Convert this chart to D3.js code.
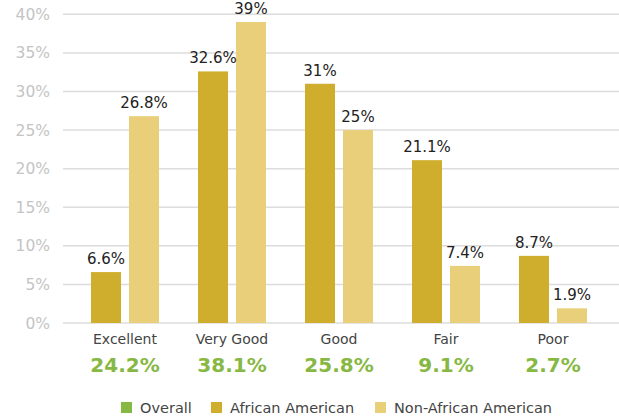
<!DOCTYPE html>
<html><head><meta charset="utf-8">
<script src="https://cdn.jsdelivr.net/npm/d3@7"></script>
<style>body{margin:0;background:#fff}svg{display:block}text{font-family:"DejaVu Sans",sans-serif}</style>
</head><body><svg id="c" width="619" height="420"></svg>
<script>
const categories = ["Excellent","Very Good","Good","Fair","Poor"];
const overall = [24.2, 38.1, 25.8, 9.1, 2.7];
const africanAmerican = [6.6, 32.6, 31, 21.1, 8.7];
const nonAfricanAmerican = [26.8, 39, 25, 7.4, 1.9];
const yTicks = [0,5,10,15,20,25,30,35,40];
const seriesNames = ["Overall","African American","Non-African American"];
const colors = {"Overall":"#86b843","African American":"#d0ae2d","Non-African American":"#e9cf7a"};

const svg = d3.select("#c");
const y = d3.scaleLinear().domain([0,40]).range([323,14.3]);
const x0 = d3.scaleBand().domain(categories).range([71.5,606.5]);
const sub = ["African American","Non-African American"];
const x1 = d3.scaleBand().domain(sub).range([-38,38]).paddingInner(8/38).paddingOuter(4/38);

// grid
svg.append("g").selectAll("line").data(yTicks).join("line")
  .attr("x1",63).attr("x2",619).attr("y1",d=>y(d)).attr("y2",d=>y(d))
  .attr("stroke","#dcdcdc").attr("stroke-width",1.5);
svg.append("g").selectAll("text").data(yTicks).join("text")
  .attr("x",50).attr("y",d=>y(d)).attr("dy","0.36em").attr("text-anchor","end")
  .attr("fill","#c4c4c4").attr("font-size",15.5).text(d=>d+"%");

const rows = categories.map((c,i)=>({c, vals:[{k:sub[0],v:africanAmerican[i]},{k:sub[1],v:nonAfricanAmerican[i]}]}));
const g = svg.append("g").selectAll("g").data(rows).join("g")
  .attr("transform",d=>`translate(${x0(d.c)+x0.bandwidth()/2},0)`);
g.selectAll("rect").data(d=>d.vals).join("rect")
  .attr("x",d=>x1(d.k)).attr("width",x1.bandwidth())
  .attr("y",d=>y(d.v)).attr("height",d=>y(0)-y(d.v)).attr("fill",d=>colors[d.k]);
g.selectAll("text.v").data(d=>d.vals).join("text").attr("class","v")
  .attr("x",d=>x1(d.k)+x1.bandwidth()/2).attr("y",d=>y(d.v)-8)
  .attr("text-anchor","middle").attr("font-size",15).attr("fill","#222").text(d=>d.v+"%");

// category labels
svg.append("g").selectAll("text").data(categories).join("text")
  .attr("x",d=>x0(d)+x0.bandwidth()/2).attr("y",344).attr("text-anchor","middle")
  .attr("font-size",14).attr("fill","#444").text(d=>d);
svg.append("g").selectAll("text").data(overall).join("text")
  .attr("x",(d,i)=>x0(categories[i])+x0.bandwidth()/2).attr("y",372).attr("text-anchor","middle")
  .attr("font-size",20).attr("font-weight","bold").attr("fill",colors["Overall"]).text(d=>d+"%");

// legend
const legX = [121,211,375];
const lg = svg.append("g").selectAll("g").data(seriesNames).join("g")
  .attr("transform",(d,i)=>`translate(${legX[i]},402)`);
lg.append("rect").attr("width",11).attr("height",11).attr("fill",d=>colors[d]);
lg.append("text").attr("x",19).attr("y",5.5).attr("dy","0.36em").attr("font-size",14.5).attr("fill","#444").text(d=>d);
</script></body></html>
